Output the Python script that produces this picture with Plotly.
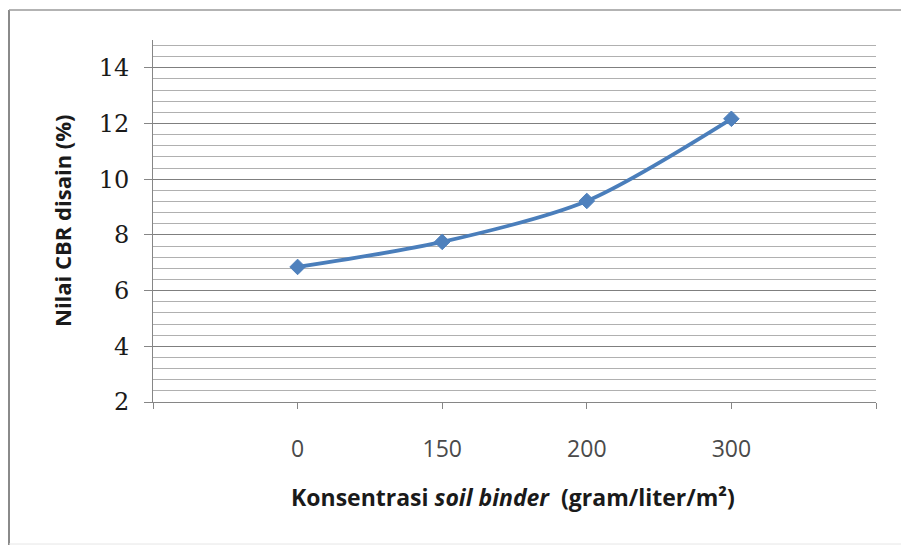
import plotly.graph_objects as go

# Soil binder concentration categories and the design CBR values measured
categories = ["0", "150", "200", "300"]
cbr_values = [6.85, 7.75, 9.22, 12.17]

# Categories sit on the inner tick marks of a 0..5 slot axis
x_pos = list(range(1, len(categories) + 1))
tick_positions = list(range(0, len(categories) + 2))
tick_text = [""] + categories + [""]

LINE_BLUE = "#4a7ebb"
MARK_BLUE = "#4f81bd"
SANS = "Open Sans, Lato, sans-serif"
SERIF = "DejaVu Serif, Liberation Serif, serif"

# plot area in pixels: left 153, right 876, top 40, bottom 402
PL, PR, PT, PB = 153, 876, 40, 402


def px(x):
    return (x - PL) / (PR - PL)


def py(y):
    return (PB - y) / (PB - PT)


fig = go.Figure()
fig.add_trace(go.Scatter(
    x=x_pos,
    y=cbr_values,
    mode="lines+markers",
    line=dict(color=LINE_BLUE, width=3.8, shape="spline", smoothing=0.8),
    marker=dict(symbol="diamond", size=12, color=MARK_BLUE,
                line=dict(color=MARK_BLUE, width=1)),
    showlegend=False,
    hoverinfo="x+y",
))

fig.update_layout(
    width=901,
    height=545,
    margin=dict(l=PL, r=901 - PR, t=PT, b=545 - PB),
    paper_bgcolor="white",
    plot_bgcolor="white",
    font=dict(family=SANS, color="#262626"),
    xaxis=dict(
        range=[0, len(categories) + 1],
        tickmode="array",
        tickvals=tick_positions,
        ticktext=tick_text,
        ticks="outside",
        ticklen=6,
        tickcolor="#868686",
        showline=True,
        linecolor="#868686",
        linewidth=1,
        showgrid=False,
        zeroline=False,
        tickfont=dict(size=23, color="#4a4a4a", family=SANS),
        ticklabelstandoff=20,
        fixedrange=True,
    ),
    yaxis=dict(
        range=[2, 15],
        tick0=2,
        dtick=2,
        ticks="outside",
        ticklen=8,
        tickcolor="#868686",
        showline=True,
        linecolor="#868686",
        linewidth=1,
        showgrid=True,
        gridcolor="#7f7f7f",
        gridwidth=1,
        zeroline=False,
        tickfont=dict(size=24, color="#1a1a1a", family=SERIF),
        ticklabelstandoff=10,
        minor=dict(dtick=0.4, tick0=2, showgrid=True,
                   gridcolor="#b0b0b0", gridwidth=1),
        fixedrange=True,
    ),
    annotations=[
        dict(
            text="Konsentrasi <i>soil binder</i>  (gram/liter/m²)",
            xref="paper", yref="paper",
            x=px(513), y=py(497),
            xanchor="center", yanchor="middle",
            showarrow=False,
            font=dict(size=23, color="#1a1a1a", family=SANS, weight="bold"),
        ),
        dict(
            text="Nilai CBR disain (%)",
            xref="paper", yref="paper",
            x=px(62), y=py(221),
            xanchor="center", yanchor="middle",
            textangle=-90,
            showarrow=False,
            font=dict(size=22, color="#1a1a1a", family=SANS, weight="bold"),
        ),
    ],
    shapes=[
        # chart-area frame: left and top edges, faint bottom edge
        dict(type="line", xref="paper", yref="paper",
             x0=px(9), x1=px(9), y0=py(545), y1=py(10),
             line=dict(color="#8a8a8a", width=2), layer="below"),
        dict(type="line", xref="paper", yref="paper",
             x0=px(9), x1=px(905), y0=py(10), y1=py(10),
             line=dict(color="#9a9a9a", width=1.5), layer="below"),
        dict(type="line", xref="paper", yref="paper",
             x0=px(9), x1=px(905), y0=py(544), y1=py(544),
             line=dict(color="#e6e6e6", width=1), layer="below"),
    ],
)

fig.write_html("out.html")
